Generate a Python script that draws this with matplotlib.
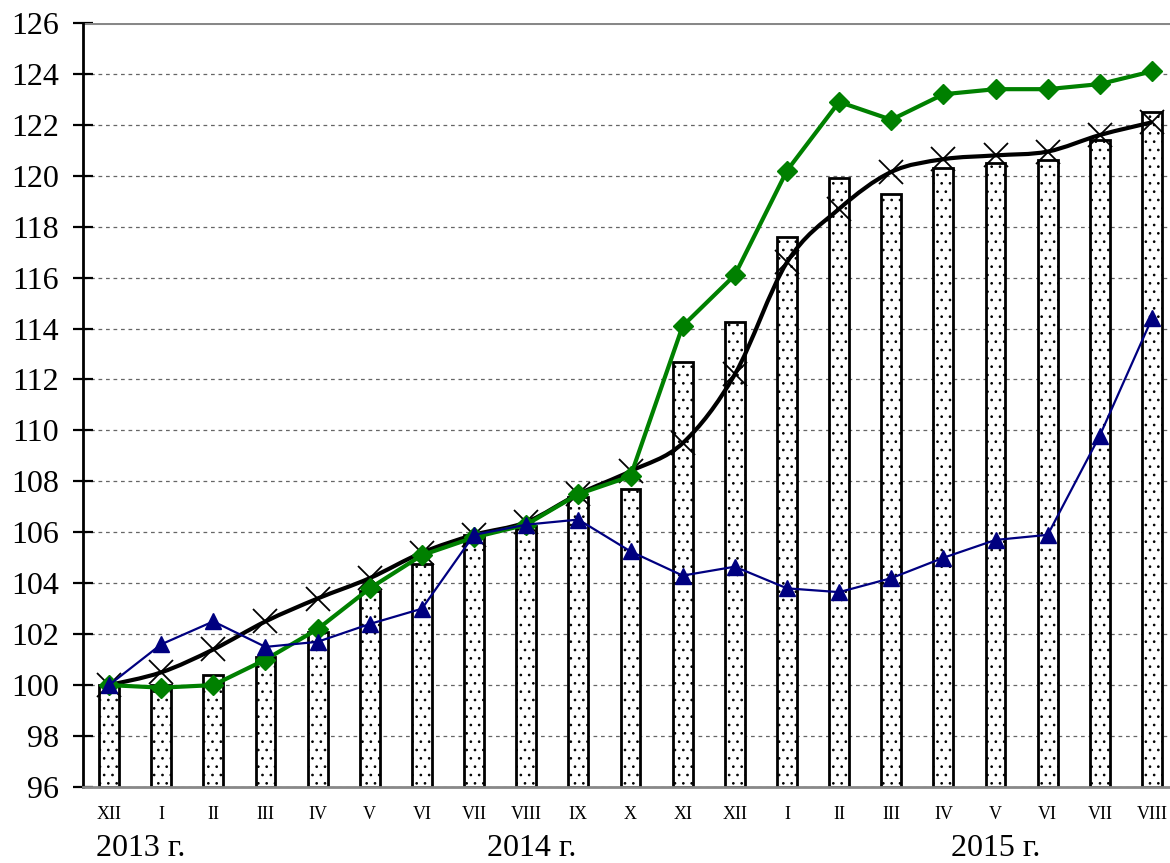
import matplotlib.pyplot as plt
import numpy as np
from matplotlib.path import Path
from matplotlib.patches import PathPatch

months = ["XII", "I", "II", "III", "IV", "V", "VI", "VII", "VIII", "IX", "X",
          "XI", "XII", "I", "II", "III", "IV", "V", "VI", "VII", "VIII"]
years = ["2013 г.", "2014 г.", "2015 г."]
year_at = [0.6, 8.1, 17.0]

bars = [100.0, 100.0, 100.4, 101.1, 102.1, 103.7, 104.75, 105.9, 106.25, 107.4, 107.7,
        112.7, 114.25, 117.6, 119.9, 119.3, 120.3, 120.5, 120.6, 121.4, 122.5]
black = [100.0, 100.5, 101.4, 102.5, 103.4, 104.2, 105.2, 105.9, 106.4, 107.5, 108.4,
         109.5, 112.2, 116.6, 118.7, 120.15, 120.65, 120.8, 120.95, 121.6, 122.1]
green = [100.0, 99.9, 100.0, 101.0, 102.2, 103.8, 105.1, 105.8, 106.3, 107.5, 108.2,
         114.1, 116.1, 120.2, 122.9, 122.2, 123.2, 123.4, 123.4, 123.6, 124.1]
navy = [100.0, 101.6, 102.5, 101.5, 101.7, 102.4, 103.0, 105.9, 106.3, 106.5, 105.25,
        104.3, 104.65, 103.8, 103.65, 104.2, 105.0, 105.7, 105.9, 109.8, 114.4]

plt.rcParams["font.family"] = ["Liberation Serif", "DejaVu Serif"]
plt.rcParams["hatch.linewidth"] = 0.7
plt.rcParams["hatch.color"] = "#666666"


def smooth_path(x, y):
    """Catmull-Rom curve through the points, as cubic Bezier segments."""
    pts = np.column_stack([x, y]).astype(float)
    verts = [pts[0]]
    codes = [Path.MOVETO]
    n = len(pts)
    for i in range(n - 1):
        p0 = pts[max(i - 1, 0)]
        p1 = pts[i]
        p2 = pts[i + 1]
        p3 = pts[min(i + 2, n - 1)]
        verts += [p1 + (p2 - p0) / 6, p2 - (p3 - p1) / 6, p2]
        codes += [Path.CURVE4] * 3
    return Path(verts, codes)


fig = plt.figure(figsize=(11.7, 8.63), dpi=100)
ax = fig.add_axes([0.0709, 0.0881, 0.936, 0.8853])

x = np.arange(len(months))
ax.bar(x, np.array(bars) - 96, bottom=96, width=0.38, color="white",
       edgecolor="black", linewidth=2, hatch="..", zorder=2)

ax.add_patch(PathPatch(smooth_path(x, black), fill=False, color="black", lw=3, zorder=3))
ax.plot(x, black, ls="none", marker="x", ms=17, mew=1.3, color="black", zorder=4)
ax.plot(x, green, color="#008000", lw=3, marker="D", ms=10, zorder=5)
ax.plot(x, navy, color="#000080", lw=1.6, marker="^", ms=11, zorder=6)

ax.set_xlim(-0.5, len(months) - 0.5)
ax.set_ylim(96, 126)
ax.set_yticks(np.arange(96, 127, 2))
ax.grid(axis="y", ls=(0, (3, 3)), color="#666666", lw=0.9)
ax.axhline(126, color="#888888", lw=2.2, zorder=1.8)

ax.set_xticks(x)
ax.set_xticklabels(months, fontsize=13)
ax.tick_params(axis="x", length=0, pad=14)
ax.tick_params(axis="y", direction="inout", length=15, width=1.6, labelsize=23, pad=10)

for s in ["top", "right"]:
    ax.spines[s].set_visible(False)
ax.spines["left"].set_linewidth(2)
ax.spines["bottom"].set_color("#888888")
ax.spines["bottom"].set_linewidth(2)

for yr, pos in zip(years, year_at):
    ax.text(pos, -0.08, yr, transform=ax.get_xaxis_transform(), ha="center",
            va="center", fontsize=23)

fig.savefig("out.png", dpi=100)
